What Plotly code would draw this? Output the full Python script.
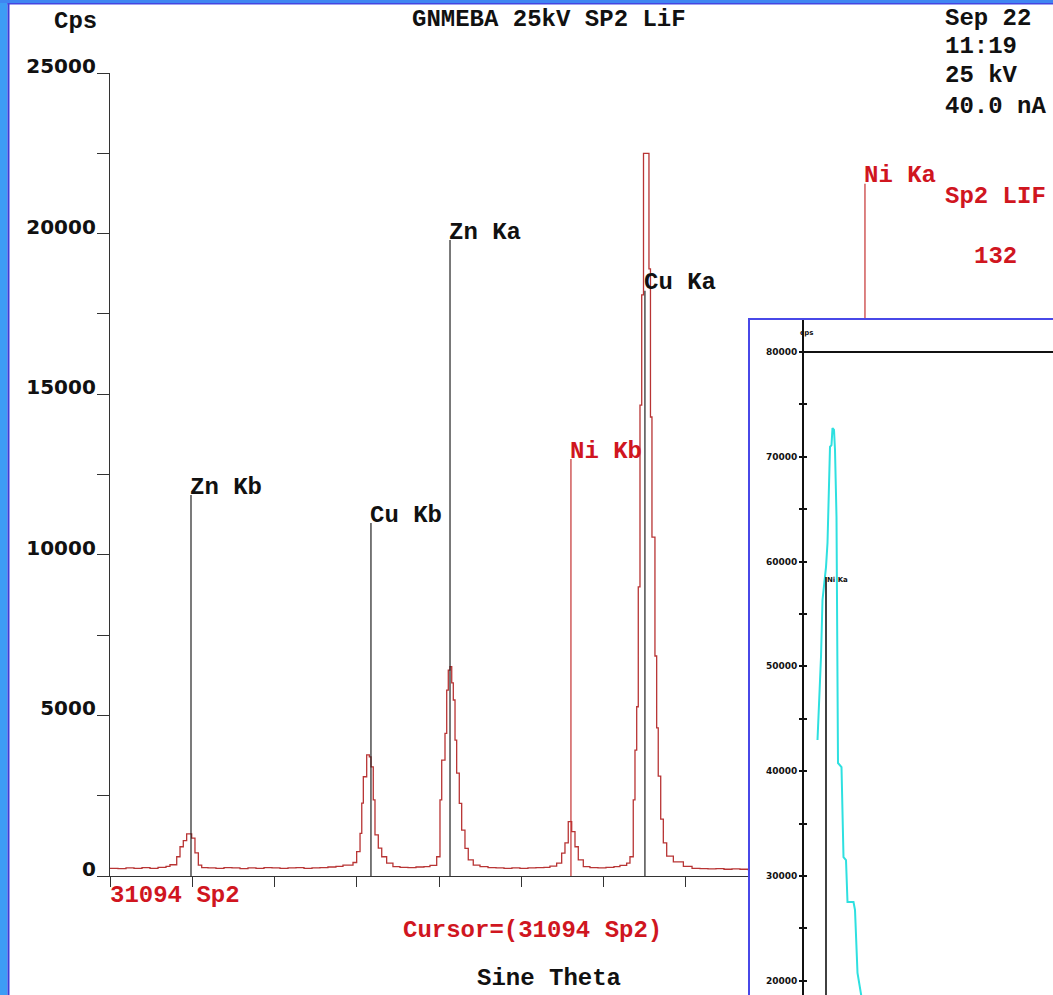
import plotly.graph_objects as go

# ---------------------------------------------------------------------------
# Figure geometry (pixels)
W, H = 1053, 995

# ---------------------------------------------------------------------------
# Wavelength scan, spectrometer 2 (LiF): sin(theta) x 1e5 against counts/s
scan_sin = [
    31094, 31201, 31308, 31415, 31522, 31629, 31736, 31843, 31896, 31986,
    32030, 32074, 32119, 32186, 32230, 32275, 32320, 32404, 32511, 32618,
    32725, 32832, 32939, 33046, 33153, 33260, 33367, 33474, 33581, 33688,
    33795, 33901, 34008, 34115, 34209, 34343, 34392, 34437, 34460, 34481,
    34526, 34561, 34584, 34614, 34637, 34681, 34727, 34793, 34877, 34971,
    35078, 35185, 35292, 35372, 35462, 35506, 35529, 35573, 35596, 35617,
    35640, 35663, 35684, 35707, 35729, 35764, 35796, 35840, 35884, 35951,
    36041, 36148, 36255, 36362, 36468, 36575, 36682, 36789, 36896, 36976,
    37066, 37133, 37177, 37221, 37267, 37311, 37355, 37422, 37511, 37618,
    37725, 37832, 37912, 38002, 38046, 38090, 38113, 38136, 38157, 38180,
    38203, 38227, 38300, 38320, 38340, 38380, 38403, 38424, 38457, 38492,
    38537, 38626, 38760, 38876, 38982, 39089, 39196, 39303, 39410, 39517,
    39624, 39784, 40051, 40318,
]
scan_cps = [
    240, 230, 250, 240, 260, 240, 270, 300, 350, 600,
    910, 1100, 1310, 1180, 720, 340, 260, 250, 240, 260,
    250, 230, 250, 240, 260, 250, 240, 250, 260, 240,
    250, 260, 280, 300, 340, 420, 760, 1330, 2270, 3090,
    3770, 3710, 3400, 2370, 1280, 870, 600, 400, 290, 270,
    260, 280, 290, 330, 600, 2370, 3610, 4440, 5790, 6410,
    6520, 6010, 5480, 4230, 3200, 2260, 1430, 860, 500, 340,
    290, 260, 250, 240, 250, 240, 250, 260, 270, 310,
    400, 710, 1030, 1690, 1380, 910, 500, 290, 260, 250,
    270, 290, 330, 400, 600, 2370, 3920, 5270, 9000, 14660,
    18090, 22500, 18900, 14290, 10550, 6850, 4610, 3110, 1770, 1030,
    620, 440, 300, 240, 230, 220, 230, 210, 220, 210,
    200, 220, 260, 320,
]

# KLM line markers
line_names = ["Zn Kb", "Cu Kb", "Zn Ka", "Ni Kb", "Cu Ka", "Ni Ka"]
line_sin = [32177, 34583, 35640, 37257, 38246, 41188]
line_top = [11860, 10990, 19800, 12980, 18220, 21550]
line_is_ni = [False, False, False, True, False, True]

y_tick_vals = [0, 2500, 5000, 7500, 10000, 12500, 15000, 17500, 20000, 22500, 25000]
y_tick_text = ["0", "", "5000", "", "10000", "", "15000", "", "20000", "", "25000"]
x_tick_vals = [31094, 32194, 33294, 34394, 35494, 36594, 37694, 38794,
               39894, 40994, 42094, 43194]

# Fine peak scan across Ni Ka (inset)
peak_sin = [41179, 41184, 41186, 41189, 41194, 41196, 41199, 41201, 41204,
            41207, 41209, 41212, 41214, 41217, 41219, 41220, 41227, 41231,
            41236, 41239, 41251, 41254, 41259, 41264, 41268]
peak_cps = [42970, 48980, 50890, 56330, 58520, 59470, 61770, 64910, 70930,
            71110, 72740, 72550, 70640, 64250, 52510, 40770, 40390, 31800,
            31510, 27510, 27510, 26750, 20740, 19400, 18160]
peak_line_sin = 41196
peak_line_top = 58520
inset_tick_vals = [20000, 25000, 30000, 35000, 40000, 45000, 50000, 55000,
                   60000, 65000, 70000, 75000, 80000]
inset_tick_text = ["20000", "", "30000", "", "40000", "", "50000", "",
                   "60000", "", "70000", "", "80000"]

# ---------------------------------------------------------------------------
BLACK = "#111111"
RED = "#d0161f"
TRACE_RED = "#b83434"
MONO = "Liberation Mono"


def fx(px):
    return px / W


def fy(py):
    return 1 - py / H


fig = go.Figure()

# spectrum
fig.add_trace(go.Scatter(
    x=scan_sin, y=scan_cps, mode="lines", line=dict(color=TRACE_RED, width=1.3, shape="hv"),
    xaxis="x", yaxis="y", hoverinfo="skip"))

# marker lines, grouped by colour
for ni, colour in ((False, "#222222"), (True, "#c43030")):
    xs, ys = [], []
    for s, t, flag in zip(line_sin, line_top, line_is_ni):
        if flag == ni:
            xs += [s, s, None]
            ys += [0, t, None]
    fig.add_trace(go.Scatter(x=xs, y=ys, mode="lines", line=dict(color=colour, width=1.2),
                             xaxis="x", yaxis="y", hoverinfo="skip"))

# inset traces
fig.add_trace(go.Scatter(
    x=peak_sin, y=peak_cps, mode="lines", line=dict(color="#2ee0e0", width=2),
    xaxis="x2", yaxis="y2", hoverinfo="skip"))
fig.add_trace(go.Scatter(
    x=[peak_line_sin, peak_line_sin], y=[0, peak_line_top], mode="lines",
    line=dict(color="#111111", width=1.6), xaxis="x2", yaxis="y2", hoverinfo="skip"))
fig.add_trace(go.Scatter(x=[], y=[], xaxis="x2", yaxis="y3", hoverinfo="skip"))

annotations = []
for name, s, t, flag in zip(line_names, line_sin, line_top, line_is_ni):
    annotations.append(dict(
        x=s, y=t, xref="x", yref="y", text=name, showarrow=False,
        xanchor="left", yanchor="middle", xshift=-3, yshift=8,
        font=dict(family=MONO, size=24, color=RED if flag else BLACK, weight="bold")))


def label(text, px, py, color=BLACK, anchor="left", size=24):
    annotations.append(dict(
        x=fx(px), y=fy(py), xref="paper", yref="paper", text=text, showarrow=False,
        xanchor=anchor, yanchor="middle",
        font=dict(family=MONO, size=size, color=color, weight="bold")))


label("Cps", 75, 21, anchor="center")
label("GNMEBA 25kV SP2 LiF", 549, 20, anchor="center")
label("Sep 22", 943, 18)
label("11:19", 943, 46)
label("25 kV", 943, 75)
label("40.0 nA", 943, 106)
label("Sp2 LIF", 943, 196, color=RED)
label("132", 972, 256, color=RED)
label("31094 Sp2", 108, 895, color=RED)
label("Cursor=(31094 Sp2)", 401, 930, color=RED)
label("Sine Theta", 475, 978)

annotations.append(dict(
    x=peak_line_sin, y=peak_line_top, xref="x2", yref="y2", text="Ni Ka", showarrow=False,
    xanchor="left", yanchor="middle", xshift=-1, yshift=-3,
    font=dict(family="DejaVu Sans", size=7, color=BLACK, weight="bold")))
annotations.append(dict(
    x=fx(806), y=fy(333), xref="paper", yref="paper", text="cps", showarrow=False,
    xanchor="center", yanchor="middle",
    font=dict(family="DejaVu Sans", size=7, color=BLACK, weight="bold")))

shapes = [
    # window frame
    dict(type="rect", xref="paper", yref="paper", x0=0, x1=fx(7.5), y0=0, y1=1,
         fillcolor="#3d9cf5", line=dict(width=0), layer="above"),
    dict(type="rect", xref="paper", yref="paper", x0=fx(7.5), x1=fx(9.5), y0=0, y1=1,
         fillcolor="#3c3cd8", line=dict(width=0), layer="above"),
    dict(type="rect", xref="paper", yref="paper", x0=0, x1=1, y0=fy(3), y1=1,
         fillcolor="#3f86f2", line=dict(width=0), layer="above"),
    dict(type="rect", xref="paper", yref="paper", x0=fx(7.5), x1=1, y0=fy(4.5), y1=fy(3),
         fillcolor="#4545e0", line=dict(width=0), layer="above"),
    # inset frame
    dict(type="rect", xref="paper", yref="paper", x0=fx(749), x1=1.05, y0=-0.05, y1=fy(319),
         line=dict(color="#4848e8", width=2), fillcolor="rgba(0,0,0,0)", layer="above"),
    dict(type="line", xref="x2", yref="y2", x0=41150, x1=41700, y0=80000, y1=80000,
         line=dict(color="#111111", width=2), layer="above"),
]

axis_common = dict(showgrid=False, zeroline=False, automargin=False)

fig.update_layout(
    template="none",
    width=W, height=H, autosize=False,
    margin=dict(l=0, r=0, t=0, b=0, pad=0, autoexpand=False),
    paper_bgcolor="white", plot_bgcolor="white", showlegend=False,
    xaxis=dict(domain=[fx(110), 1], range=[31094, 43702], anchor="y",
               tickvals=x_tick_vals, ticks="outside", ticklen=10, tickwidth=1.2,
               tickcolor="#333333", showline=True, linecolor="#333333", linewidth=1.3,
               showticklabels=False, **axis_common),
    yaxis=dict(domain=[fy(876), fy(73)], range=[0, 25000], anchor="x",
               tickvals=y_tick_vals, ticktext=y_tick_text, ticks="outside", ticklen=12,
               tickwidth=1.2, tickcolor="#333333", showline=True, linecolor="#333333",
               linewidth=1.3, ticklabelshift=-7, ticklabelstandoff=-3,
               tickfont=dict(family="DejaVu Sans", size=20, color=BLACK, weight="bold"),
               **axis_common),
    xaxis2=dict(domain=[fx(749), 1], range=[41042, 41650], anchor="y2", visible=False,
                **axis_common),
    yaxis2=dict(domain=[0, fy(319)], range=[18636, 83139], anchor="free", position=fx(803),
                tickvals=inset_tick_vals, ticktext=inset_tick_text, ticks="outside",
                ticklen=3, tickwidth=2, tickcolor="#111111", showline=True,
                linecolor="#111111", linewidth=2, ticklabelstandoff=0,
                tickfont=dict(family="DejaVu Sans", size=9, color=BLACK, weight="bold"),
                **axis_common),
    yaxis3=dict(range=[18636, 83139], overlaying="y2", anchor="free", position=fx(803),
                tickvals=inset_tick_vals, ticks="inside", ticklen=3, tickwidth=2,
                tickcolor="#111111", showticklabels=False, showline=False, **axis_common),
    annotations=annotations,
    shapes=shapes,
)

fig.write_html("out.html")
